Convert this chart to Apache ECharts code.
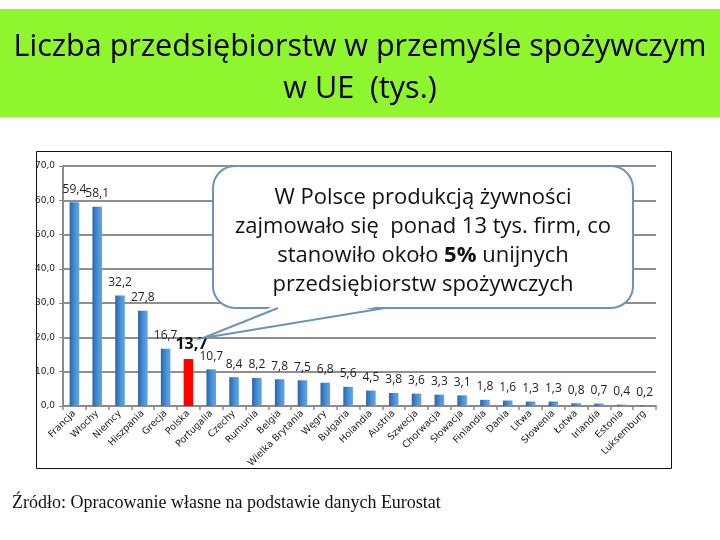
<!DOCTYPE html>
<html>
<head>
<meta charset="utf-8">
<script src="https://cdn.jsdelivr.net/npm/echarts@6/dist/echarts.min.js"></script>
<style>
html,body{margin:0;padding:0;background:#fff;}
#c{width:720px;height:540px;}
</style>
</head>
<body>
<div id="c"></div>
<script>
const categories = ['Francja','Włochy','Niemcy','Hiszpania','Grecja','Polska','Portugalia','Czechy','Rumunia','Belgia','Wielka Brytania','Węgry','Bułgaria','Holandia','Austria','Szwecja','Chorwacja','Słowacja','Finlandia','Dania','Litwa','Słowenia','Łotwa','Irlandia','Estonia','Luksemburg'];
const values = [59.4,58.1,32.2,27.8,16.7,13.7,10.7,8.4,8.2,7.8,7.5,6.8,5.6,4.5,3.8,3.6,3.3,3.1,1.8,1.6,1.3,1.3,0.8,0.7,0.4,0.2];
const highlight = 'Polska';
const yTicks = {min:0, max:70, interval:10};

const chart = echarts.init(document.getElementById('c'));
const blueGrad = new echarts.graphic.LinearGradient(0,0,1,0,[
  {offset:0,color:'#2a65a8'},{offset:0.55,color:'#4a90d6'},{offset:1,color:'#5fa6e8'}
]);
const fmt = v => v.toFixed(1).replace('.', ',');

const data = values.map((v,i) => {
  if (categories[i] === highlight) {
    return {value:v, itemStyle:{color:'#ff0000'},
      label:{fontWeight:'bold', fontSize:16, color:'#111', offset:[3,0]}};
  }
  return {value:v};
});

chart.setOption({
  animation:false,
  backgroundColor:'#fff',
  title:{
    text:'Liczba przedsiębiorstw w przemyśle spożywczym\nw UE  (tys.)',
    left:'center', top:21,
    textStyle:{fontFamily:'Open Sans', fontSize:30.5, fontWeight:'normal', color:'#000', lineHeight:42}
  },
  grid:{left:63, right:64, top:166, bottom:134, containLabel:false},
  xAxis:{
    type:'category', data:categories,
    axisLine:{lineStyle:{color:'#8a8a8a', width:2}},
    axisTick:{show:true, alignWithLabel:false, lineStyle:{color:'#8a8a8a', width:1.5}, length:4},
    axisLabel:{interval:0, rotate:45, fontSize:9.5, fontFamily:'DejaVu Sans', color:'#1a1a1a', margin:6}
  },
  yAxis:{
    type:'value', min:yTicks.min, max:yTicks.max, interval:yTicks.interval,
    axisLine:{show:true, lineStyle:{color:'#8a8a8a', width:2}},
    axisTick:{show:true, length:4, lineStyle:{color:'#8a8a8a'}},
    splitLine:{lineStyle:{color:'#8f8f8f', width:2}},
    axisLabel:{formatter:v => fmt(v), fontSize:9, fontFamily:'DejaVu Sans', color:'#222', margin:8}
  },
  series:[{
    type:'bar', data:data, barWidth:'42%',
    itemStyle:{color:blueGrad},
    label:{show:true, position:'top', distance:7, fontFamily:'Open Sans', fontSize:12, color:'#222',
      formatter:p => fmt(p.value)}
  }],
  graphic:[
    {type:'rect', z:-10, shape:{x:0,y:9,width:720,height:108}, style:{fill:'#8ef52f'}},
    {type:'rect', z:100, shape:{x:36.5,y:151.5,width:635,height:317}, style:{fill:'none', stroke:'#111', lineWidth:1}},
    {type:'text', z:100, x:12, y:503, style:{text:'Źródło: Opracowanie własne na podstawie danych Eurostat',
      font:'18px "Liberation Serif"', fill:'#111', verticalAlign:'middle'}},
    {type:'rect', z:100, shape:{x:213,y:166,width:420,height:142,r:22},
      style:{fill:'#fff', stroke:'#6f93b8', lineWidth:2}},
    {type:'polygon', z:101, shape:{points:[[276,305],[203,338],[387,305]]},
      style:{fill:'#fff', stroke:null}},
    {type:'polyline', z:102, shape:{points:[[278,308],[203,338],[385,308]]},
      style:{fill:null, stroke:'#6f93b8', lineWidth:2}},
    {type:'text', z:103, x:423, y:241, style:{
      text:'W Polsce produkcją żywności\nzajmowało się  ponad 13 tys. firm, co\nstanowiło około {b|5%} unijnych\nprzedsiębiorstw spożywczych',
      align:'center', verticalAlign:'middle', font:'22px "Open Sans"', fill:'#111', lineHeight:29,
      rich:{b:{font:'bold 22px "Open Sans"', fill:'#111'}}
    }}
  ]
});
</script>
</body>
</html>
